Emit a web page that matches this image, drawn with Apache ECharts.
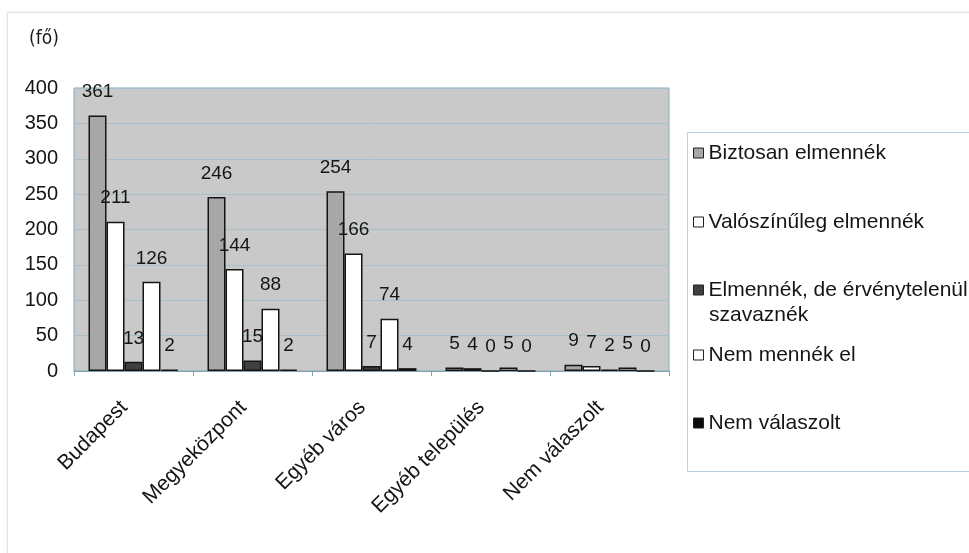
<!DOCTYPE html>
<html>
<head>
<meta charset="utf-8">
<script src="https://cdn.jsdelivr.net/npm/echarts@6/dist/echarts.min.js"></script>
<style>
  html, body { margin: 0; padding: 0; background: #ffffff; }
  #card {
    position: absolute; left: 7px; top: 12px; width: 990px; height: 580px;
    border: 1px solid #e4e4e4; box-shadow: 0 0 4px rgba(0,0,0,0.08); background: #fff;
  }
  #chart { position: absolute; left: 0; top: 0; width: 969px; height: 553px; }
</style>
</head>
<body>
<div id="card"></div>
<div id="chart"></div>
<script>
// Település típusa (kategóriák)
const categories = ['Budapest', 'Megyeközpont', 'Egyéb város', 'Egyéb település', 'Nem válaszolt'];

// Válaszadók száma (fő) válaszkategóriánként
const biztosan     = [361, 246, 254, 5, 9];
const valoszinuleg = [211, 144, 166, 4, 7];
const ervenytelen  = [13, 15, 7, 0, 2];
const nemMennek    = [126, 88, 74, 5, 5];
const nemValaszolt = [2, 2, 4, 0, 0];

const seriesNames = [
  'Biztosan elmennék',
  'Valószínűleg elmennék',
  'Elmennék, de érvénytelenül szavaznék',
  'Nem mennék el',
  'Nem válaszolt'
];

// y tengely: 0–400, 50-es lépésköz
const yMin = 0, yMax = 400, yStep = 50;

const FONT = '"Liberation Sans", Arial, sans-serif';
const fills = ['#a7a7a7', '#ffffff', '#404040', '#ffffff', '#0c0c0c'];
const valueSets = [biztosan, valoszinuleg, ervenytelen, nemMennek, nemValaszolt];

const series = valueSets.map((vals, i) => ({
  name: seriesNames[i],
  type: 'bar',
  data: vals,
  barWidth: 18,
  barGap: '0%',
  itemStyle: { color: fills[i], borderColor: '#141414', borderWidth: 1.5 },
  label: {
    show: true, position: 'top', distance: 14,
    fontFamily: FONT, fontSize: 19, color: '#151515'
  },
  emphasis: { disabled: true }
}));

// Jelmagyarázat: elemenként külön elhelyezve
const legendCenters = [153, 222, 290, 355, 423];
const legends = seriesNames.map((name, i) => ({
  data: [name],
  orient: 'vertical',
  left: 693,
  top: legendCenters[i] - 12,
  padding: 0,
  icon: 'rect',
  itemWidth: 10,
  itemHeight: 10,
  itemStyle: { borderColor: '#222', borderWidth: 1 },
  selectedMode: false,
  formatter: n => (i === 2 ? 'Elmennék, de érvénytelenül' : n),
  textStyle: { fontFamily: FONT, fontSize: 21, color: '#151515', lineHeight: 24 }
}));

const chart = echarts.init(document.getElementById('chart'), null, { renderer: 'canvas' });
chart.setOption({
  animation: false,
  backgroundColor: 'transparent',
  grid: {
    left: 74, right: 300, top: 88, bottom: 182,
    show: true, backgroundColor: '#c9c9c9', borderColor: '#86a9b9', borderWidth: 1
  },
  graphic: [
    {
      type: 'text', left: 29, top: 30,
      style: { text: '(fő)', fontFamily: '"DejaVu Sans Condensed", sans-serif', fontSize: 19, fill: '#1a1a1a' }
    },
    {
      type: 'rect', shape: { x: 687.5, y: 132.5, width: 300, height: 339 },
      style: { fill: '#ffffff', stroke: '#bcd2de', lineWidth: 1 }, z: -1
    },
    {
      type: 'text', x: 709, y: 305,
      style: { text: 'szavaznék', fontFamily: FONT, fontSize: 21, fill: '#151515' }
    }
  ],
  legend: legends,
  xAxis: {
    type: 'category',
    data: categories,
    axisLine: { lineStyle: { color: '#7ea3b6', width: 1 } },
    axisTick: { show: true, length: 5, lineStyle: { color: '#7ea3b6' } },
    axisLabel: {
      rotate: 45, margin: 24, interval: 0, padding: [0, 13, 0, 0],
      fontFamily: FONT, fontSize: 21, color: '#151515'
    },
    splitLine: { show: false }
  },
  yAxis: {
    type: 'value',
    min: yMin, max: yMax, interval: yStep,
    axisLine: { show: false },
    axisTick: { show: false },
    axisLabel: { margin: 16, fontFamily: FONT, fontSize: 20, color: '#151515' },
    splitLine: { lineStyle: { color: '#a9bfca', width: 1 } }
  },
  series: series
});
</script>
</body>
</html>
